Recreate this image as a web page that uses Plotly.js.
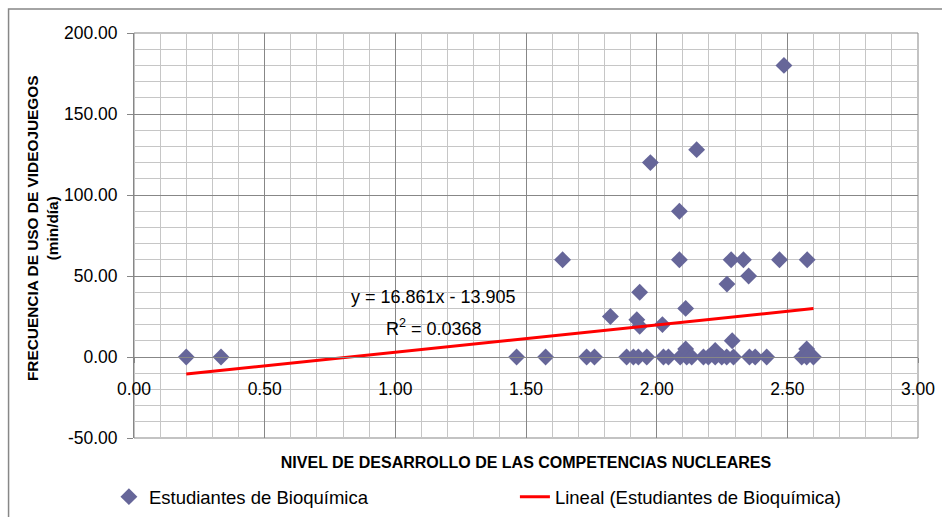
<!DOCTYPE html>
<html><head><meta charset="utf-8">
<script src="https://cdn.plot.ly/plotly-3.0.1.min.js"></script>
<style>html,body{margin:0;padding:0;background:#fff}#chart{width:942px;height:517px}</style>
</head><body><div id="chart"></div>
<script>
const seriesName = 'Estudiantes de Bioquímica';
const trendName = 'Lineal (Estudiantes de Bioquímica)';
const xTitle = 'NIVEL DE DESARROLLO DE LAS COMPETENCIAS NUCLEARES';
const yTitle = 'FRECUENCIA DE USO DE VIDEOJUEGOS<br>(min/día)';

const competencias = [0.20, 0.333, 1.464, 1.575, 1.640, 1.732, 1.762, 1.823, 1.885, 1.911,
  1.924, 1.930, 1.935, 1.935, 1.962, 1.976, 2.022, 2.026, 2.045, 2.087,
  2.087, 2.090, 2.111, 2.111, 2.115, 2.134, 2.153, 2.179, 2.198, 2.224,
  2.224, 2.249, 2.268, 2.269, 2.285, 2.289, 2.294, 2.332, 2.352, 2.355,
  2.377, 2.421, 2.470, 2.487, 2.555, 2.574, 2.574, 2.576, 2.600];
const minutosDia = [0, 0, 0, 0, 60, 0, 0, 25, 0, 0,
  23, 0, 19, 40, 0, 120, 20, 0, 0, 60,
  90, 0, 30, 5, 0, 0, 128, 0, 0, 4,
  0, 0, 0, 45, 60, 10, 0, 60, 50, 0,
  0, 0, 60, 180, 0, 5, 0, 60, 0];

const trendSlope = 16.861;
const trendIntercept = -13.905;
const trendEquation = 'y = 16.861x - 13.905';
const trendR2 = 'R<sup>2</sup> = 0.0368';

const xTickVals = [0, 0.5, 1, 1.5, 2, 2.5, 3];
const xTickText = ['0.00', '0.50', '1.00', '1.50', '2.00', '2.50', '3.00'];
const yTickVals = [-50, 0, 50, 100, 150, 200];
const yTickText = ['-50.00', '0.00', '50.00', '100.00', '150.00', '200.00'];

const xMin = Math.min(...competencias), xMax = Math.max(...competencias);
const trendX = [xMin, xMax];
const trendY = trendX.map(v => trendSlope * v + trendIntercept);

const baseFont = 'Liberation Sans, Arial, sans-serif';
const xTitleFont = {family: baseFont, size: 16, color: '#000', weight: 'bold'};
const yTitleFont = {family: baseFont, size: 15.4, color: '#000', weight: 'bold'};
const tickFont = {family: baseFont, size: 17.5, color: '#000'};
const majorGrid = '#878787', minorGrid = '#c6c6c6';

const traces = [
  {x: competencias, y: minutosDia, type: 'scatter', mode: 'markers', name: seriesName,
   marker: {symbol: 'diamond', size: 13, color: '#666699'}},
  {x: trendX, y: trendY, xaxis: 'x2', type: 'scatter', mode: 'lines', name: trendName,
   line: {color: '#FF0000', width: 3}}
];

const layout = {
  width: 942, height: 517,
  margin: {l: 134, r: 24, t: 33, b: 79, autoexpand: false},
  paper_bgcolor: '#fff', plot_bgcolor: '#fff',
  showlegend: true,
  xaxis: {
    range: [0, 3], tickmode: 'array', tickvals: xTickVals, ticktext: xTickText,
    showticklabels: false, ticks: '', showgrid: true, gridcolor: majorGrid, gridwidth: 1,
    zeroline: false, showline: false, automargin: false,
    minor: {tickmode: 'linear', tick0: 0, dtick: 0.1, showgrid: true, gridcolor: minorGrid, gridwidth: 1},
    title: {text: xTitle, font: xTitleFont, standoff: 18}
  },
  xaxis2: {
    overlaying: 'x', anchor: 'free', position: 0.2, range: [0, 3], automargin: false,
    tickmode: 'array', tickvals: xTickVals, ticktext: xTickText, tickfont: tickFont,
    ticks: 'outside', ticklen: 5, tickcolor: majorGrid, showgrid: false, zeroline: false,
    showline: true, linecolor: majorGrid, ticklabelstandoff: 11
  },
  yaxis: {
    range: [-50, 200], tickmode: 'array', tickvals: yTickVals, ticktext: yTickText, tickfont: tickFont,
    ticks: 'outside', ticklen: 6, tickcolor: majorGrid, showline: true, linecolor: majorGrid,
    showgrid: true, gridcolor: majorGrid, gridwidth: 1, zeroline: false, automargin: false,
    minor: {tickmode: 'linear', tick0: 0, dtick: 10, showgrid: true, gridcolor: minorGrid, gridwidth: 1},
    ticklabelstandoff: 6
  },
  legend: {orientation: 'h', x: -0.032, xanchor: 'left', y: -0.146, yanchor: 'middle',
    font: {family: baseFont, size: 18.5, color: '#000'}, entrywidth: 361, entrywidthmode: 'pixels',
    bgcolor: 'rgba(0,0,0,0)'},
  annotations: [
    {x: -0.1173, y: 0.5185, xref: 'paper', yref: 'paper', text: yTitle, showarrow: false,
     textangle: -90, font: yTitleFont, xanchor: 'center', yanchor: 'middle'},
    {x: 1.146, y: 37.2, xref: 'x', yref: 'y', text: trendEquation, showarrow: false,
     font: {family: baseFont, size: 18, color: '#000'}, xanchor: 'center', yanchor: 'middle'},
    {x: 1.148, y: 18.2, xref: 'x', yref: 'y', text: trendR2, showarrow: false,
     font: {family: baseFont, size: 18, color: '#000'}, xanchor: 'center', yanchor: 'middle'}
  ],
  shapes: [
    {type: 'rect', xref: 'paper', yref: 'paper', x0: 0, x1: 1, y0: 0, y1: 1,
     line: {color: majorGrid, width: 1}, fillcolor: 'rgba(0,0,0,0)', layer: 'below'},
    {type: 'rect', xref: 'paper', yref: 'paper', x0: -0.160, x1: 1.5, y0: -0.5, y1: 1.059,
     line: {color: '#878787', width: 1.5}, fillcolor: 'rgba(0,0,0,0)'}
  ]
};

Plotly.newPlot('chart', traces, layout, {staticPlot: true, displayModeBar: false});
</script>
</body></html>
